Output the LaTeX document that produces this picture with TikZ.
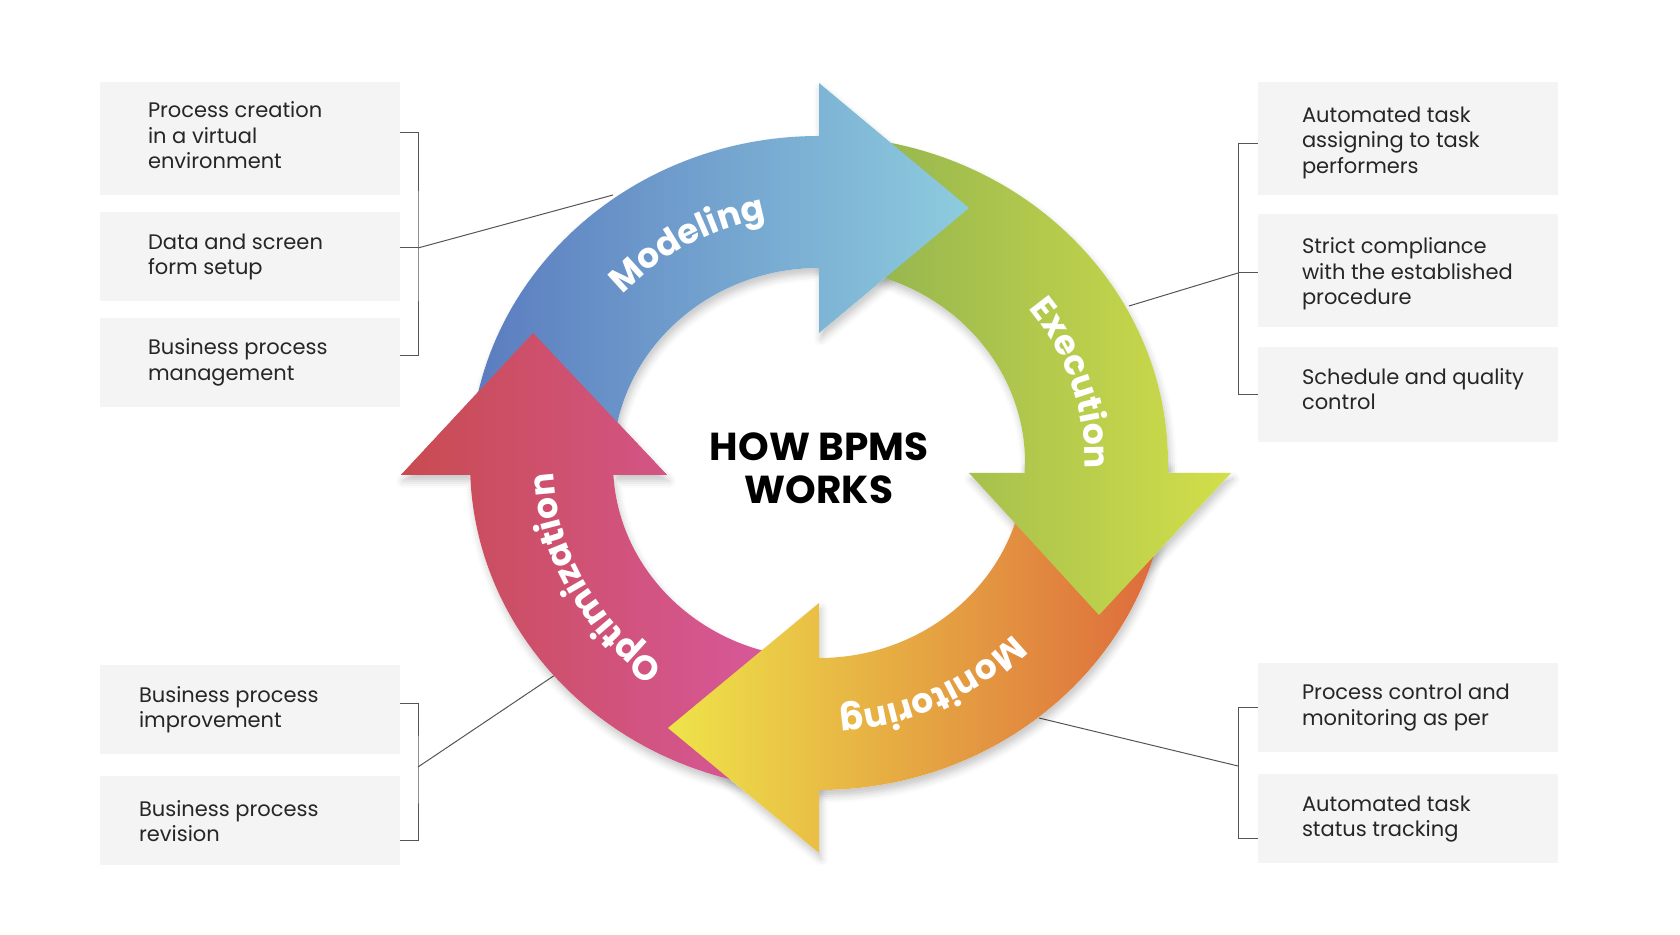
\documentclass[tikz,border=0pt]{standalone}
\usepackage{fontspec}
\setmainfont{Poppins}
\usetikzlibrary{positioning,decorations.text,shadows.blur}

\definecolor{boxgray}{HTML}{F4F4F4}
\definecolor{linegray}{HTML}{555555}
\definecolor{modleft}{HTML}{5A7BBF}
\definecolor{modright}{HTML}{8DCCDE}
\definecolor{exeleft}{HTML}{8CAF4F}
\definecolor{exeright}{HTML}{D3DF4A}
\definecolor{monleft}{HTML}{EEE449}
\definecolor{monright}{HTML}{DD683C}
\definecolor{optleft}{HTML}{C84B50}
\definecolor{optright}{HTML}{D95AA4}

\tikzset{
  infobox/.style={fill=boxgray, minimum width=300pt, inner sep=0pt},
  infotext/.style={align=left, inner sep=0pt, font=\fontsize{21}{25.5}\selectfont, text=black!85},
  link/.style={draw=linegray, line width=1pt},
  ringshadow/.style={fill=white, blur shadow={shadow xshift=2pt, shadow yshift=-6pt, shadow blur radius=7pt, shadow opacity=22}},
  ringlabel/.style={decorate, decoration={text along path, text align=center, text color=white,
    text={|\fontsize{34.5}{34.5}\selectfont\bfseries|#1}}},
}

% arrow outlines, relative to the ring centre
\newcommand\modelingpath{(180:349 and 327) arc[start angle=180, end angle=90, x radius=349, y radius=327]
  -- (0,380) -- (150,255) -- (0,130) -- (0,195)
  arc[start angle=90, end angle=180, x radius=206, y radius=195] -- cycle}
\newcommand\executionpath{(90:349 and 327) arc[start angle=90, end angle=0, x radius=349, y radius=327]
  -- (349,-10) -- (412,-10) -- (280,-152) -- (150,-10) -- (206,-10) -- (206,0)
  arc[start angle=0, end angle=90, x radius=206, y radius=195] -- cycle}
\newcommand\monitoringpath{(0:349 and 327) arc[start angle=0, end angle=-90, x radius=349, y radius=327]
  -- (0,-390) -- (-151,-265) -- (0,-140) -- (0,-195)
  arc[start angle=-90, end angle=0, x radius=206, y radius=195] -- cycle}
\newcommand\optimizationpath{(-90:349 and 327) arc[start angle=-90, end angle=-180, x radius=349, y radius=327]
  -- (-349,-12) -- (-418,-12) -- (-286,130) -- (-152,-12) -- (-206,-12) -- (-206,0)
  arc[start angle=180, end angle=270, x radius=206, y radius=195] -- cycle}
\newcommand\optimizationhead{(-418,-12) -- (-286,130) -- (-152,-12) -- cycle}

\begin{document}
\begin{tikzpicture}[x=1pt,y=1pt]
\useasboundingbox (0,0) rectangle (1680,934);

% left boxes
\node[infobox, minimum height=113pt] (tl1) at (250,795.5) {};
\node[infobox, minimum height=89pt, below=17pt of tl1] (tl2) {};
\node[infobox, minimum height=89pt, below=16pt of tl2] (tl3) {};
\node[infotext, right=48pt of tl1.west, yshift=3pt] {Process creation\\in a virtual\\environment};
\node[infotext, right=48pt of tl2.west] {Data and screen\\form setup};
\node[infotext, right=48pt of tl3.west] {Business process\\management};

\node[infobox, minimum height=89pt] (bl1) at (250,224.5) {};
\node[infobox, minimum height=89pt, below=22pt of bl1] (bl2) {};
\node[infotext, right=39pt of bl1.west] {Business process\\improvement};
\node[infotext, right=39pt of bl2.west] {Business process\\revision};

% right boxes
\node[infobox, minimum height=113pt] (tr1) at (1408,795.5) {};
\node[infobox, minimum height=113pt, below=19pt of tr1] (tr2) {};
\node[infobox, minimum height=95pt, below=19pt of tr2] (tr3) {};
\node[infotext, right=44pt of tr1.west, yshift=-4pt] {Automated task\\assigning to task\\performers};
\node[infotext, right=44pt of tr2.west, yshift=-3pt] {Strict compliance\\with the established\\procedure};
\node[infotext, right=44pt of tr3.west, yshift=5pt] {Schedule and quality\\control};

\node[infobox, minimum height=89pt] (br1) at (1408,226.5) {};
\node[infobox, minimum height=89pt, below=22pt of br1] (br2) {};
\node[infotext, right=44pt of br1.west] {Process control and\\monitoring as per};
\node[infotext, right=44pt of br2.west] {Automated task\\status tracking};

% brackets and leader lines
\coordinate (tlbar) at (418,686);
\coordinate (blbar) at (418,167);
\coordinate (trbar) at (1238,661);
\coordinate (brbar) at (1238,168);
\coordinate (modpin) at (613,739);
\coordinate (exepin) at (1129,628);
\coordinate (monpin) at (1039,216);
\coordinate (optpin) at (555,259);

\draw[link] ([yshift=6pt]tl1.east) -| (tlbar) |- ([yshift=7pt]tl3.east);
\draw[link] (tlbar) -- (tl2.east |- tlbar);
\draw[link] (tlbar) -- (modpin);
\draw[link] ([yshift=6pt]bl1.east) -| (blbar) |- ([yshift=-20pt]bl2.east);
\draw[link] (blbar) -- (optpin);
\draw[link] ([yshift=-5pt]tr1.west) -| (trbar) |- ([yshift=0pt]tr3.west);
\draw[link] (trbar) -- (tr2.west |- trbar);
\draw[link] (trbar) -- (exepin);
\draw[link] ([yshift=0pt]br1.west) -| (brbar) |- ([yshift=-20pt]br2.west);
\draw[link] (brbar) -- (monpin);

% the cycle
\begin{scope}[shift={(819,471)}]
  \path[ringshadow] \optimizationpath;
  \path[ringshadow] \monitoringpath;
  \path[ringshadow] \executionpath;
  \path[ringshadow] \modelingpath;

  \begin{scope}
    \clip \optimizationpath;
    \shade[left color=optleft, right color=optright] (-420,-330) rectangle (0,135);
  \end{scope}
  \begin{scope}
    \clip \monitoringpath;
    \shade[left color=monleft, right color=monright] (-152,-392) rectangle (350,2);
  \end{scope}
  \begin{scope}
    \clip \executionpath;
    \shade[left color=exeleft, right color=exeright] (-2,-155) rectangle (413,330);
  \end{scope}
  \begin{scope}
    \clip \modelingpath;
    \shade[left color=modleft, right color=modright] (-350,-2) rectangle (151,382);
  \end{scope}
  \begin{scope}
    \clip \optimizationhead;
    \shade[left color=optleft, right color=optright] (-420,-330) rectangle (0,135);
  \end{scope}

  \path[ringlabel=Modeling] (160:266 and 250) arc[start angle=160, end angle=80, x radius=266, y radius=250];
  \path[ringlabel=Execution] (58:266 and 250) arc[start angle=58, end angle=-22, x radius=266, y radius=250];
  \path[ringlabel=Monitoring] (-24:266 and 250) arc[start angle=-24, end angle=-104, x radius=266, y radius=250];
  \path[ringlabel=Optimization] (248:266 and 250) arc[start angle=248, end angle=168, x radius=266, y radius=250];
\end{scope}

\node[align=center, font=\fontsize{39}{43}\selectfont\bfseries] (bpms) at (819,466) {HOW BPMS\\WORKS};

\end{tikzpicture}
\end{document}
